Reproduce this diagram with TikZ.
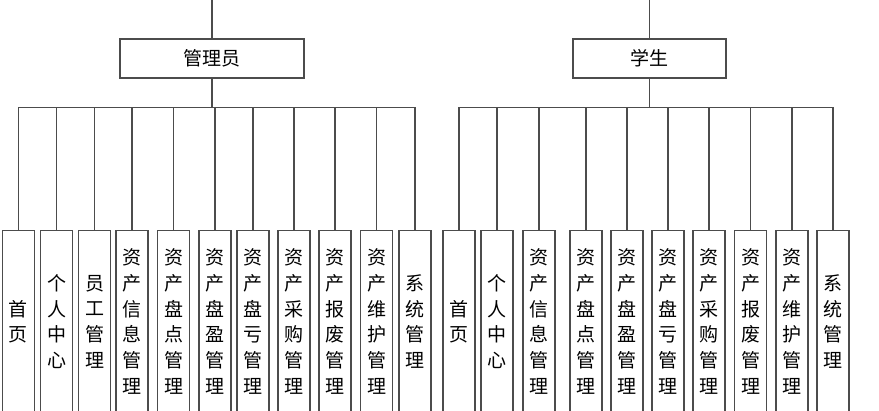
\documentclass[tikz,border=0pt]{standalone}
\usepackage{fontspec}
\usepackage{tikz}
\newfontfamily\cjk{Noto Sans CJK SC}
\usetikzlibrary{positioning,calc}

\begin{document}
\begin{tikzpicture}[x=1pt,y=-1pt,
  role/.style={draw=black!70,line width=1.3pt,minimum height=39pt,inner sep=0pt,font=\cjk\fontsize{19}{23}\selectfont},
  leaf/.style={draw=black!70,line width=1.3pt,anchor=north,minimum width=32pt,minimum height=182pt,inner sep=0pt,align=center,font=\cjk\fontsize{19}{25.7}\selectfont},
  ln/.style={black!70,line width=1.3pt}]
\useasboundingbox (0,0) rectangle (879,411);
% roles
\coordinate(atop) at(212,0);
\coordinate(stop) at(649.5,0);
\node[role,minimum width=184pt](adm) at(212,58.5){管理员};
\node[role,minimum width=153pt](stu) at(649.5,58.5){学生};
\coordinate(abus) at(212,107.5);
\coordinate(sbus) at(649.5,107.5);
% admin leaves
\node[leaf](a1)  at(18.5,230){首\\页};
\node[leaf](a2)  at(56.5,230){个\\人\\中\\心};
\node[leaf](a3)  at(94.5,230){员\\工\\管\\理};
\node[leaf](a4)  at(132,230){资\\产\\信\\息\\管\\理};
\node[leaf](a5)  at(173.5,230){资\\产\\盘\\点\\管\\理};
\node[leaf](a6)  at(215,230){资\\产\\盘\\盈\\管\\理};
\node[leaf](a7)  at(253,230){资\\产\\盘\\亏\\管\\理};
\node[leaf](a8)  at(294,230){资\\产\\采\\购\\管\\理};
\node[leaf](a9)  at(335,230){资\\产\\报\\废\\管\\理};
\node[leaf](a10) at(376.5,230){资\\产\\维\\护\\管\\理};
\node[leaf](a11) at(415,230){系\\统\\管\\理};
% student leaves
\node[leaf](s1)  at(459,230){首\\页};
\node[leaf](s2)  at(497,230){个\\人\\中\\心};
\node[leaf](s3)  at(539,230){资\\产\\信\\息\\管\\理};
\node[leaf](s4)  at(586,230){资\\产\\盘\\点\\管\\理};
\node[leaf](s5)  at(627,230){资\\产\\盘\\盈\\管\\理};
\node[leaf](s6)  at(668,230){资\\产\\盘\\亏\\管\\理};
\node[leaf](s7)  at(709,230){资\\产\\采\\购\\管\\理};
\node[leaf](s8)  at(750.5,230){资\\产\\报\\废\\管\\理};
\node[leaf](s9)  at(792,230){资\\产\\维\\护\\管\\理};
\node[leaf](s10) at(833,230){系\\统\\管\\理};
% connectors
\draw[ln](atop)--(adm);
\draw[ln](stop)--(stu);
\draw[ln](adm)--(abus);
\draw[ln](stu)--(sbus);
\draw[ln](a1.north|-abus)--(a11.north|-abus);
\draw[ln](s1.north|-sbus)--(s10.north|-sbus);
\foreach \i in {1,...,11} \draw[ln](a\i.north|-abus)--(a\i);
\foreach \i in {1,...,10} \draw[ln](s\i.north|-sbus)--(s\i);
\end{tikzpicture}
\end{document}
